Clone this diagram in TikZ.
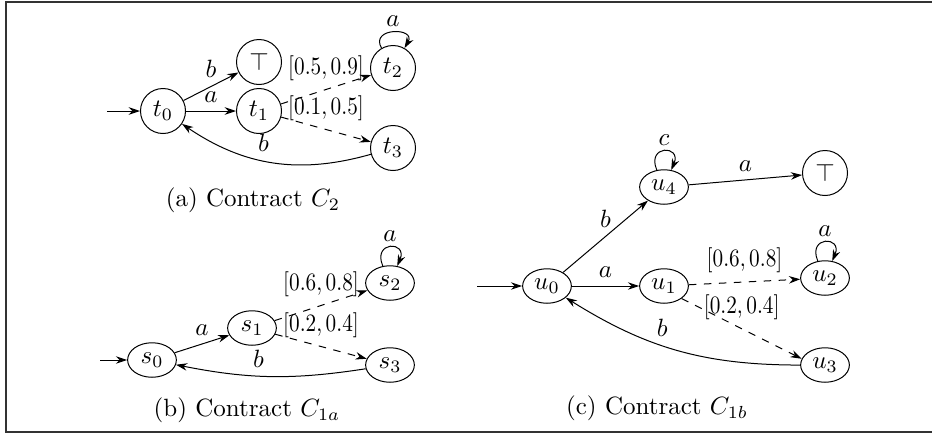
\documentclass[tikz,border=0pt]{standalone}
\usetikzlibrary{arrows.meta,shapes.geometric}

\begin{document}
\begin{tikzpicture}[
    x=.4pt, y=-.4pt,
    >={Stealth[length=4.5pt, width=3pt]},
    circ/.style={circle, draw, minimum size=18pt, inner sep=0pt},
    oval/.style={ellipse, draw, minimum width=19.5pt, minimum height=13.8pt, inner sep=0pt},
    trans/.style={->},
    prob/.style={->, dashed},
    selfloop/.style={->, out=120, in=60, looseness=2.7},
    ovloop/.style={->, out=113, in=67, looseness=1, min distance=11pt},
    intv/.style={above, xscale=.85, transform shape},
]
    \useasboundingbox (0,0) rectangle (932,434);
    %% frame, open on the right
    \draw[line width=.8pt, black!80] (932,2) -- (6,2) -- (6,432) -- (932,432);

    %% (a) contract C_2
    \node[circ] (t0) at (163,111) {$t_0$};
    \node[circ] (ttop) at (259,62) {$\top$};
    \node[circ] (t1) at (259,111) {$t_1$};
    \node[circ] (t2) at (393,68) {$t_2$};
    \node[circ] (t3) at (393,148) {$t_3$};
    \coordinate (tin) at (107,111);
    \draw[trans] (tin) -- (t0);
    \draw[trans] (t0) -- node[above] {$b$} (ttop);
    \draw[trans] (t0) -- node[above] {$a$} (t1);
    \draw[prob] (t1) -- node[intv] {$[0.5,0.9]$} (t2);
    \draw[prob] (t1) -- node[intv] {$[0.1,0.5]$} (t3);
    \draw[trans] (t3) to[bend left=25] node[above, pos=.55] {$b$} (t0);
    \draw[selfloop] (t2) to node[above, inner sep=2pt] {$a$} (t2);
    \node (capa) at (253,200) {(a) Contract $C_2$};

    %% (b) contract C_1a
    \node[oval] (s0) at (152,360) {$s_0$};
    \node[oval] (s1) at (252,328) {$s_1$};
    \node[oval] (s2) at (390,283) {$s_2$};
    \node[oval] (s3) at (390,365) {$s_3$};
    \coordinate (sin) at (100,360);
    \draw[trans] (sin) -- (s0);
    \draw[trans] (s0) -- node[above] {$a$} (s1);
    \draw[prob] (s1) -- node[intv] {$[0.6,0.8]$} (s2);
    \draw[prob] (s1) -- node[intv] {$[0.2,0.4]$} (s3);
    \draw[trans] (s3) to[bend left=10] node[above, pos=.57] {$b$} (s0);
    \draw[ovloop] (s2) to node[above, inner sep=2pt] {$a$} (s2);
    \node (capb) at (247,410) {(b) Contract $C_{1a}$};

    %% (c) contract C_1b
    \node[oval] (u0) at (547,286) {$u_0$};
    \node[oval] (u4) at (664,187) {$u_4$};
    \node[circ] (utop) at (825,173) {$\top$};
    \node[oval] (u1) at (664,286) {$u_1$};
    \node[oval] (u2) at (825,278) {$u_2$};
    \node[oval] (u3) at (825,365) {$u_3$};
    \coordinate (uin) at (477,286);
    \draw[trans] (uin) -- (u0);
    \draw[trans] (u0) -- node[above] {$b$} (u4);
    \draw[trans] (u4) -- node[above] {$a$} (utop);
    \draw[trans] (u0) -- node[above] {$a$} (u1);
    \draw[prob] (u1) -- node[intv] {$[0.6,0.8]$} (u2);
    \draw[prob] (u1.south east) -- node[intv] {$[0.2,0.4]$} (u3.165);
    \draw[trans] (u3) to[bend left=16] node[above, pos=.57] {$b$} (u0);
    \draw[ovloop] (u4) to node[above, inner sep=2pt] {$c$} (u4);
    \draw[ovloop] (u2) to node[above, inner sep=2pt] {$a$} (u2);
    \node (capc) at (657,408) {(c) Contract $C_{1b}$};
\end{tikzpicture}
\end{document}
